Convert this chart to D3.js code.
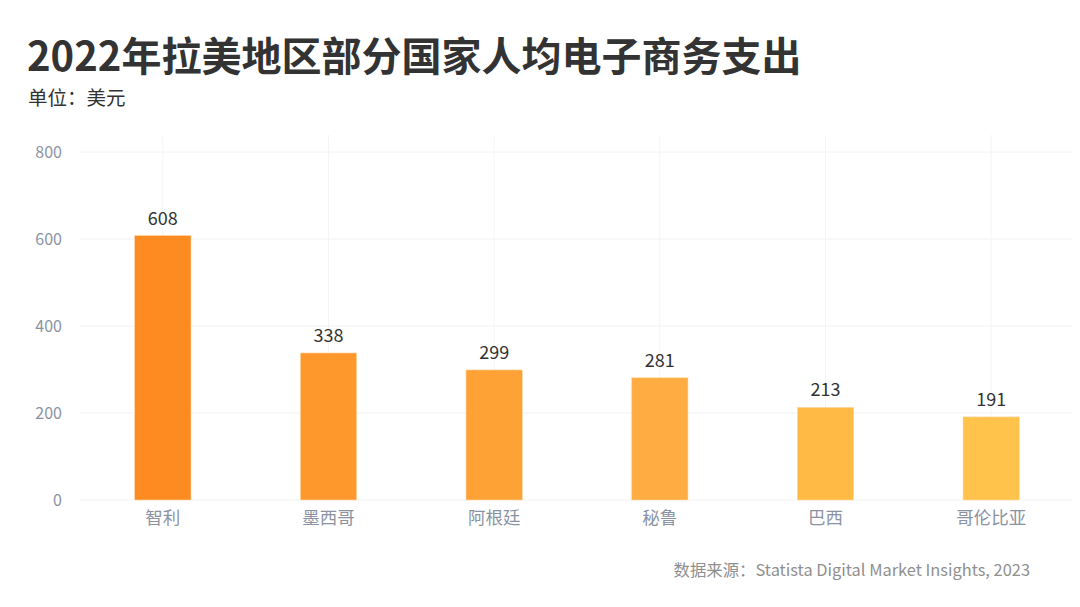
<!DOCTYPE html>
<html><head><meta charset="utf-8">
<script src="https://cdn.jsdelivr.net/npm/d3@7"></script>
<style>body{margin:0;background:#fff}svg{display:block}</style>
</head><body>
<script>
const categories = ["智利","墨西哥","阿根廷","秘鲁","巴西","哥伦比亚"];
const values = [608,338,299,281,213,191];
const barColors = ["#FD8B22","#FE982C","#FFA236","#FFAD42","#FFBA46","#FFC24A"];
const yTicks = [0,200,400,600,800];

const W=1080,H=607;
const svg=d3.select("body").append("svg").attr("width",W).attr("height",H);
const font="'Noto Sans CJK SC','Noto Sans',sans-serif";

const x=d3.scaleBand().domain(categories).range([80,1074]).paddingInner(0.66).paddingOuter(0.33);
const y=d3.scaleLinear().domain([0,800]).range([500,152]);

// horizontal grid
svg.append("g").selectAll("line").data(yTicks).join("line")
 .attr("x1",80).attr("x2",1072).attr("y1",d=>y(d)).attr("y2",d=>y(d))
 .attr("stroke","#f2f2f2").attr("stroke-width",1);
// vertical grid
svg.append("g").selectAll("line").data(categories).join("line")
 .attr("x1",d=>x(d)+x.bandwidth()/2).attr("x2",d=>x(d)+x.bandwidth()/2)
 .attr("y1",135).attr("y2",500).attr("stroke","#f4f4f4").attr("stroke-width",1);

// y axis
const yAxis=d3.axisLeft(y).tickValues(yTicks).tickSize(0).tickPadding(18);
const ga=svg.append("g").attr("transform","translate(80,0)").call(yAxis);
ga.select(".domain").remove();
ga.selectAll("text").attr("font-family",font).attr("font-size",16).attr("fill","#8b93a3");

// x axis
const xAxis=d3.axisBottom(x).tickSize(0).tickPadding(12);
const gx=svg.append("g").attr("transform","translate(0,500)").call(xAxis);
gx.select(".domain").remove();
gx.selectAll("text").attr("font-family",font).attr("font-size",17.5).attr("fill","#8b93a3");

// bars
svg.append("g").selectAll("rect").data(values).join("rect")
 .attr("x",(d,i)=>x(categories[i])).attr("width",x.bandwidth())
 .attr("y",d=>y(d)).attr("height",d=>y(0)-y(d))
 .attr("fill",(d,i)=>barColors[i]).attr("stroke","#ffd9a8").attr("stroke-width",0.6);

// value labels
svg.append("g").selectAll("text").data(values).join("text")
 .attr("x",(d,i)=>x(categories[i])+x.bandwidth()/2).attr("y",d=>y(d)-11)
 .attr("text-anchor","middle").attr("font-family",font).attr("font-size",18)
 .attr("fill","#333").text(d=>d);

// titles
svg.append("text").attr("x",27).attr("y",71).attr("font-family",font).attr("font-weight",700)
 .attr("font-size",40).attr("fill","#333").text("2022年拉美地区部分国家人均电子商务支出");
svg.append("text").attr("x",28).attr("y",105).attr("font-family",font)
 .attr("font-size",19.5).attr("fill","#333").text("单位：美元");
svg.append("text").attr("x",1030).attr("y",576).attr("text-anchor","end").attr("font-family",font)
 .attr("font-size",16.4).attr("fill","#8f8f8f").text("数据来源：Statista Digital Market Insights, 2023");
</script>
</body></html>
